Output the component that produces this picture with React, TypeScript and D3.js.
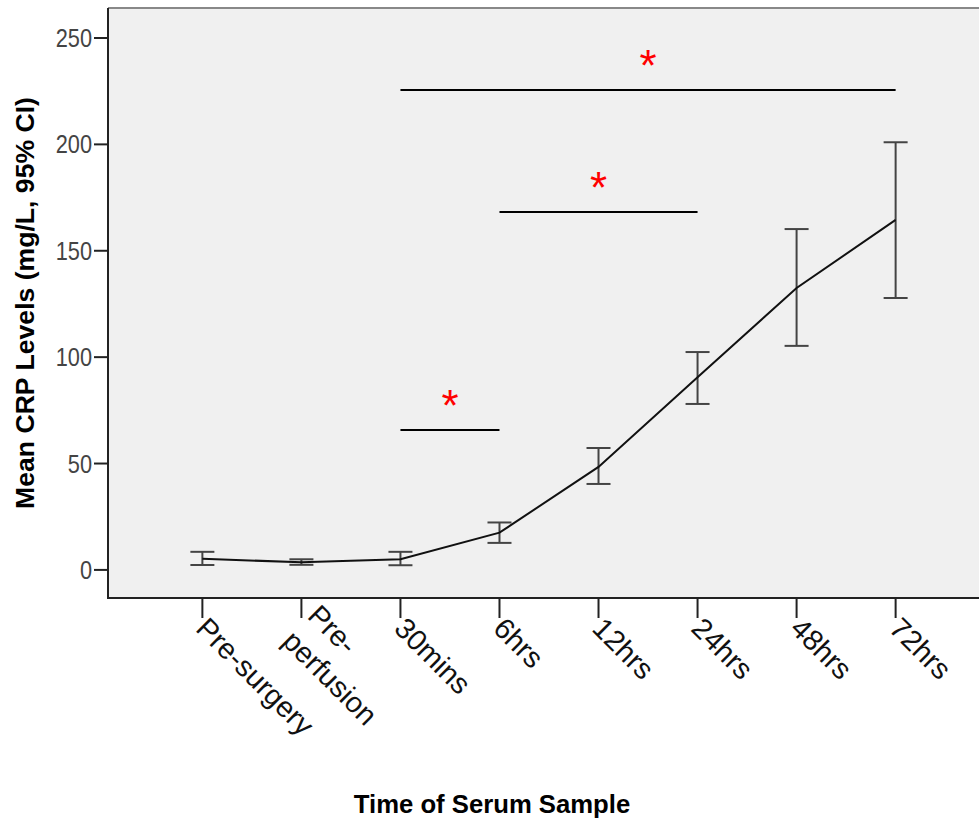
import React from 'react';
import { scaleLinear, scalePoint, line } from 'd3';

const categories = [
  'Pre-surgery',
  'Pre-\nperfusion',
  '30mins',
  '6hrs',
  '12hrs',
  '24hrs',
  '48hrs',
  '72hrs',
];
const meanCrp = [5.2, 3.6, 5.0, 17.5, 48.4, 90.5, 132.5, 164.5];
const ciLower = [2.3, 2.4, 2.2, 12.7, 40.4, 78.0, 105.3, 127.8];
const ciUpper = [8.5, 5.0, 8.5, 22.3, 57.3, 102.4, 160.2, 201.0];
const yTicks = [0, 50, 100, 150, 200, 250];

interface Sig {
  from: string;
  to: string;
  level: number;
}
const sigBrackets: Sig[] = [
  { from: '30mins', to: '6hrs', level: 65.8 },
  { from: '6hrs', to: '24hrs', level: 168.2 },
  { from: '30mins', to: '72hrs', level: 225.6 },
];

const W = 979;
const H = 825;
const plot = { left: 108, right: 990, top: 8, bottom: 598 };
const font = '"Liberation Sans", Arial, sans-serif';

export default function App() {
  const x = scalePoint<string>()
    .domain(categories)
    .range([plot.left, plot.right])
    .padding(0.953);
  const y = scaleLinear().domain([-13.2, 264.1]).range([plot.bottom, plot.top]);

  const pts = categories.map((c, i) => ({ c, v: meanCrp[i] }));
  const path = line<{ c: string; v: number }>()
    .x((d) => x(d.c) ?? 0)
    .y((d) => y(d.v))(pts);

  const lh = 36;

  return (
    <svg
      width={W}
      height={H}
      style={{ position: 'absolute', left: 0, top: 0, background: '#fff' }}
      fontFamily={font}
    >
      <rect
        x={plot.left}
        y={plot.top}
        width={plot.right - plot.left}
        height={plot.bottom - plot.top}
        fill="#f0f0f0"
      />
      <line x1={plot.left} x2={plot.right} y1={plot.top} y2={plot.top} stroke="#888" strokeWidth={2} />
      <line x1={plot.left} x2={plot.left} y1={plot.top} y2={plot.bottom + 1} stroke="#222" strokeWidth={2} />
      <line x1={plot.left} x2={plot.right} y1={plot.bottom} y2={plot.bottom} stroke="#222" strokeWidth={2} />

      {/* y axis */}
      {yTicks.map((t) => (
        <g key={t} transform={`translate(${plot.left},${y(t)})`}>
          <line x1={-14} x2={0} stroke="#222" strokeWidth={2} />
          <g transform="translate(-16,0) scale(0.87,1)">
            <text dy="0.36em" textAnchor="end" fontSize={25} fill="#444">
              {t}
            </text>
          </g>
        </g>
      ))}

      {/* x axis */}
      {categories.map((c) => {
        const lines = c.split('\n');
        const cx = x(c) ?? 0;
        return (
          <g key={c} transform={`translate(${cx},${plot.bottom})`}>
            <line y1={0} y2={20} stroke="#222" strokeWidth={2} />
            <g transform="translate(0,20) rotate(45)">
              {lines.map((l, i) => (
                <text
                  key={l}
                  x={3}
                  y={14 + (i - (lines.length - 1) / 2) * lh}
                  fontSize={29}
                  fill="#111"
                >
                  {l}
                </text>
              ))}
            </g>
          </g>
        );
      })}

      {/* error bars */}
      {categories.map((c, i) => {
        const cx = x(c) ?? 0;
        return (
          <g key={`eb-${c}`} stroke="#444" strokeWidth={2}>
            <line x1={cx} x2={cx} y1={y(ciLower[i])} y2={y(ciUpper[i])} />
            <line x1={cx - 12} x2={cx + 12} y1={y(ciLower[i])} y2={y(ciLower[i])} />
            <line x1={cx - 12} x2={cx + 12} y1={y(ciUpper[i])} y2={y(ciUpper[i])} />
          </g>
        );
      })}

      <path d={path ?? ''} fill="none" stroke="#111" strokeWidth={2} />

      {/* significance brackets */}
      {sigBrackets.map((s) => {
        const x1 = x(s.from) ?? 0;
        const x2 = x(s.to) ?? 0;
        const yy = y(s.level);
        return (
          <g key={`${s.from}-${s.to}`}>
            <line x1={x1} x2={x2} y1={yy} y2={yy} stroke="#000" strokeWidth={2} />
            <text
              x={(x1 + x2) / 2}
              y={yy - 9}
              textAnchor="middle"
              fontSize={44}
              fill="#ff0000"
            >
              *
            </text>
          </g>
        );
      })}

      {/* axis titles */}
      <text
        x={492}
        y={813}
        textAnchor="middle"
        fontSize={25.7}
        fontWeight="bold"
        fill="#000"
      >
        Time of Serum Sample
      </text>
      <text
        transform="translate(34,303) rotate(-90)"
        textAnchor="middle"
        fontSize={26.6}
        fontWeight="bold"
        fill="#000"
      >
        Mean CRP Levels (mg/L, 95% CI)
      </text>
    </svg>
  );
}
